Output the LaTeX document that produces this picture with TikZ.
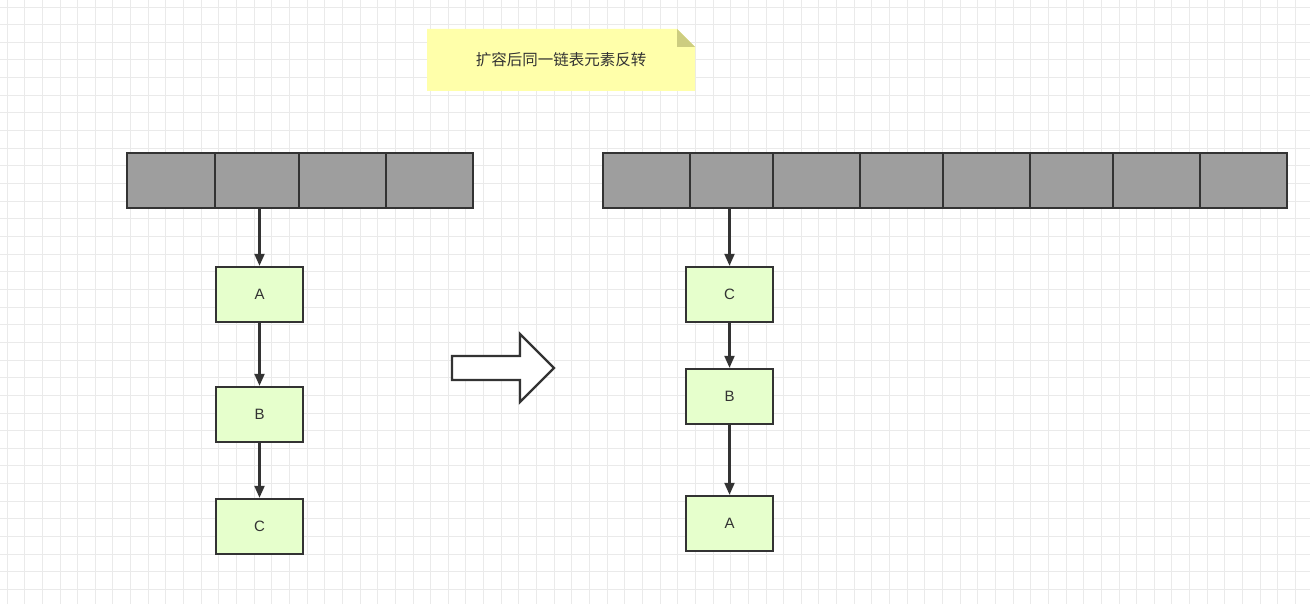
\documentclass[tikz,border=0pt]{standalone}
\usepackage{fontspec}
\newfontfamily\cjk{Noto Sans CJK SC}
\setmainfont{Liberation Sans}
\definecolor{cellgray}{RGB}{158,158,158}
\definecolor{edge}{RGB}{51,51,51}
\definecolor{nodegreen}{RGB}{230,255,204}
\definecolor{noteyellow}{RGB}{255,255,170}
\definecolor{notefold}{RGB}{205,205,128}
\definecolor{gridc}{RGB}{234,234,234}
\usetikzlibrary{arrows.meta}
\tikzset{
  cell/.style={draw=edge, fill=cellgray, line width=2.4pt},
  lnode/.style={draw=edge, fill=nodegreen, line width=2.4pt, minimum width=87pt, minimum height=55pt, inner sep=0pt, font=\fontsize{15pt}{17pt}\selectfont, text=edge},
  link/.style={draw=edge, line width=2.2pt, -{Triangle[length=12pt,width=10pt]}},
  gridline/.style={draw=gridc, line width=0.9pt},
}
\begin{document}
\begin{tikzpicture}[x=1pt,y=-1pt]
\useasboundingbox (0,0) rectangle (1310,604);
\fill[white] (0,0) rectangle (1310,604);
% grid
\foreach \i in {0,...,74} {\draw[gridline] ({7+17.65*\i},0) -- ({7+17.65*\i},604);}
\foreach \j in {0,...,34} {\draw[gridline] (0,{7+17.65*\j}) -- (1310,{7+17.65*\j});}
% note
\fill[noteyellow] (427,29) -- (677,29) -- (695,47) -- (695,91) -- (427,91) -- cycle;
\fill[notefold] (677,29) -- (695,47) -- (677,47) -- cycle;
\node[font=\cjk\fontsize{15.5pt}{17pt}\selectfont, text=edge] (note) at (561,60) {扩容后同一链表元素反转};
% left array
\foreach \a/\b in {127/215,215/299,299/386,386/473} {
  \draw[cell] (\a,153) rectangle (\b,208);
}
% right array
\foreach \a/\b in {603/690,690/773,773/860,860/943,943/1030,1030/1113,1113/1200,1200/1287} {
  \draw[cell] (\a,153) rectangle (\b,208);
}
\coordinate (ls) at (259.5,209);
\coordinate (rs) at (729.5,209);
% left list
\node[lnode] (lA) at (259.5,294.5) {A};
\node[lnode] (lB) at (259.5,414.5) {B};
\node[lnode] (lC) at (259.5,526.5) {C};
% right list
\node[lnode] (rC) at (729.5,294.5) {C};
\node[lnode] (rB) at (729.5,396.5) {B};
\node[lnode] (rA) at (729.5,523.5) {A};
\draw[link] (ls) -- (lA.north);
\draw[link] (lA) -- (lB);
\draw[link] (lB) -- (lC);
\draw[link] (rs) -- (rC.north);
\draw[link] (rC) -- (rB);
\draw[link] (rB) -- (rA);
% big arrow
\draw[edge, fill=white, line width=2.4pt] (452,356) -- (520,356) -- (520,334) -- (554,368) -- (520,402) -- (520,380) -- (452,380) -- cycle;
\end{tikzpicture}
\end{document}
